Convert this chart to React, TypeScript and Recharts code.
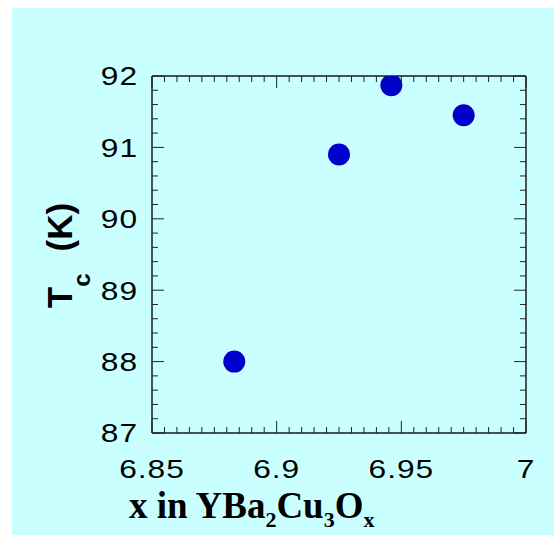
import { ScatterChart, Scatter, XAxis, YAxis } from "recharts";

// oxygen content x in YBa2Cu3Ox and the measured Tc (K)
const oxygenContent = [6.883, 6.925, 6.946, 6.975];
const tcKelvin = [88.0, 90.9, 91.87, 91.45];

const xMajorTicks = [6.85, 6.9, 6.95, 7];
const yMajorTicks = [87, 88, 89, 90, 91, 92];
const xMinorStep = 0.005;
const yMinorStep = 0.2;

const data = oxygenContent.map((x, i) => ({ x, tc: tcKelvin[i] }));

const buildTicks = (lo: number, hi: number, step: number, digits: number) => {
	const out: number[] = [];
	const n = Math.round((hi - lo) / step);
	for (let i = 0; i <= n; i++) out.push(Number((lo + i * step).toFixed(digits)));
	return out;
};

const xTicks = buildTicks(xMajorTicks[0], xMajorTicks[xMajorTicks.length - 1], xMinorStep, 3);
const yTicks = buildTicks(yMajorTicks[0], yMajorTicks[yMajorTicks.length - 1], yMinorStep, 1);

const isMajor = (list: number[], v: number) => list.some((t) => Math.abs(t - v) < 1e-9);

const TICK_COLOR = "#222";
const FRAME_COLOR = "#1a1a1a";
const labelFont = "'Liberation Sans', Arial, sans-serif";

const XTick = (props: any) => {
	const { x, y, payload, side } = props;
	const major = isMajor(xMajorTicks, payload.value);
	const len = major ? 12 : 6;
	const dir = side === "bottom" ? -1 : 1;
	return (
		<g>
			<line x1={x} y1={y} x2={x} y2={y + dir * len} stroke={TICK_COLOR} strokeWidth={1} />
			{major && side === "bottom" && (
				<text
					transform={`translate(${x},${y + 45}) scale(1.22,1)`}
					textAnchor="middle"
					fontFamily={labelFont}
					fontSize={26}
					letterSpacing={0.8}
					fill="#000"
				>
					{String(payload.value)}
				</text>
			)}
		</g>
	);
};

const YTick = (props: any) => {
	const { x, y, payload, side } = props;
	const major = isMajor(yMajorTicks, payload.value);
	const len = major ? 12 : 6;
	const dir = side === "left" ? 1 : -1;
	return (
		<g>
			<line x1={x} y1={y} x2={x + dir * len} y2={y} stroke={TICK_COLOR} strokeWidth={1} />
			{major && side === "left" && (
				<text
					transform={`translate(${x - 14},${y}) scale(1.22,1)`}
					textAnchor="end"
					dy="0.36em"
					fontFamily={labelFont}
					fontSize={26}
					letterSpacing={0.8}
					fill="#000"
				>
					{String(payload.value)}
				</text>
			)}
		</g>
	);
};

const XTitle = (props: any) => {
	const { viewBox } = props;
	return (
		<text
			x={viewBox.x - 23}
			y={viewBox.y + 85}
			fontFamily="'Liberation Serif', 'Times New Roman', serif"
			fontWeight="bold"
			fontSize={37}
			fill="#000"
		>
			x in YBa
			<tspan dy={9} fontSize={22}>2</tspan>
			<tspan dy={-9}>Cu</tspan>
			<tspan dy={9} fontSize={22}>3</tspan>
			<tspan dy={-9}>O</tspan>
			<tspan dy={9} fontSize={22}>x</tspan>
		</text>
	);
};

const YTitle = (props: any) => {
	const { viewBox } = props;
	const cx = viewBox.x + viewBox.width - 80;
	const cy = viewBox.y + viewBox.height / 2 + 1;
	return (
		<text
			transform={`translate(${cx},${cy}) rotate(-90)`}
			textAnchor="middle"
			fontFamily={labelFont}
			fontWeight="bold"
			fontSize={35}
			fill="#000"
		>
			T
			<tspan dy={18} fontSize={24}>c</tspan>
			<tspan dy={-18} dx={22}>(K)</tspan>
		</text>
	);
};

const Dot = (props: any) => <circle cx={props.cx} cy={props.cy} r={11} fill="#0000cc" />;

export default function App() {
	return (
		<div style={{ position: "absolute", left: 12, top: 8, width: 542, height: 527, background: "#caffff" }}>
			<ScatterChart width={542} height={527} margin={{ top: 0, right: 0, bottom: 0, left: 0 }}>
				<XAxis
					xAxisId="bottom"
					type="number"
					dataKey="x"
					orientation="bottom"
					domain={[6.85, 7]}
					ticks={xTicks}
					interval={0}
					height={102}
					tickSize={0}
					tickMargin={0}
					tickLine={false}
					axisLine={{ stroke: FRAME_COLOR, strokeWidth: 1.5 }}
					tick={(p: any) => <XTick {...p} side="bottom" />}
					label={<XTitle />}
					allowDataOverflow
				/>
				<XAxis
					xAxisId="top"
					type="number"
					dataKey="x"
					orientation="top"
					domain={[6.85, 7]}
					ticks={xTicks}
					interval={0}
					height={68}
					tickSize={0}
					tickMargin={0}
					tickLine={false}
					axisLine={{ stroke: FRAME_COLOR, strokeWidth: 1.5 }}
					tick={(p: any) => <XTick {...p} side="top" />}
					allowDataOverflow
				/>
				<YAxis
					yAxisId="left"
					type="number"
					dataKey="tc"
					orientation="left"
					domain={[87, 92]}
					ticks={yTicks}
					interval={0}
					width={140}
					tickSize={0}
					tickMargin={0}
					tickLine={false}
					axisLine={{ stroke: FRAME_COLOR, strokeWidth: 1.5 }}
					tick={(p: any) => <YTick {...p} side="left" />}
					label={<YTitle />}
					allowDataOverflow
				/>
				<YAxis
					yAxisId="right"
					type="number"
					dataKey="tc"
					orientation="right"
					domain={[87, 92]}
					ticks={yTicks}
					interval={0}
					width={28}
					tickSize={0}
					tickMargin={0}
					tickLine={false}
					axisLine={{ stroke: FRAME_COLOR, strokeWidth: 1.5 }}
					tick={(p: any) => <YTick {...p} side="right" />}
					allowDataOverflow
				/>
				<Scatter
					data={data}
					xAxisId="bottom"
					yAxisId="left"
					shape={<Dot />}
					isAnimationActive={false}
				/>
			</ScatterChart>
		</div>
	);
}
